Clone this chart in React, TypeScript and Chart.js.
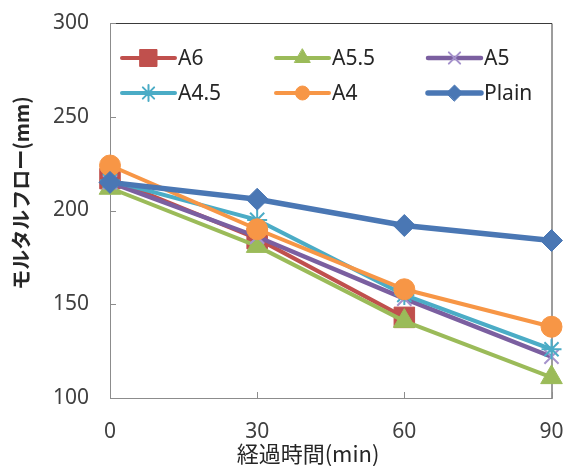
import React, { useEffect, useRef } from 'react';
import { Chart, registerables } from 'chart.js';
import { drawPoint } from 'chart.js/helpers';

Chart.register(...registerables);

// ---- data ----
const categories = ['0', '30', '60', '90'];
const seriesNames = ['A6', 'A5.5', 'A5', 'A4.5', 'A4', 'Plain'];
const a6Values = [217, 185, 143, null];
const a55Values = [212, 181, 141, 111];
const a5Values = [215, 186, 153, 122];
const a45Values = [216, 195, 155, 126];
const a4Values = [224, 190, 158, 138];
const plainValues = [215, 206, 192, 184];
const yTickValues = [100, 150, 200, 250, 300];
const xTitle = '経過時間(min)';
const yTitle = 'モルタルフロー(mm)';

// ---- styles ----
const seriesStyles = [
  { line: '#C0504D', marker: '#C0504D', style: 'rect', r: 14.5, lr: 12, lw: 4, bw: 1 },
  { line: '#9BBB59', marker: '#9BBB59', style: 'triangle', r: 12.5, lr: 9, lw: 4, bw: 1 },
  { line: '#7B5FA0', marker: '#A592CC', style: 'crossRot', r: 10, lr: 8, lw: 4.5, bw: 2 },
  { line: '#4BACC6', marker: '#4BACC6', style: 'star', r: 10, lr: 8, lw: 4, bw: 2 },
  { line: '#F79646', marker: '#F79646', style: 'circle', r: 10.5, lr: 7, lw: 4, bw: 1 },
  { line: '#4A77B4', marker: '#4A77B4', style: 'rectRot', r: 11, lr: 8, lw: 5.5, bw: 1 },
];
const allValues = [a6Values, a55Values, a5Values, a45Values, a4Values, plainValues];

const FONT = '"Noto Sans", "Noto Sans CJK JP", sans-serif';
const CJK = '"Noto Sans CJK JP", "Noto Sans", sans-serif';

const zeroPad = (s: any) => {
  s.paddingTop = 0;
  s.paddingBottom = 0;
  s.paddingLeft = 0;
  s.paddingRight = 0;
};

const framePlugin = {
  id: 'frame',
  beforeDatasetsDraw(chart: any) {
    const { ctx, chartArea: a, scales } = chart;
    ctx.save();
    ctx.lineWidth = 1;
    ctx.strokeStyle = '#8c8c8c';
    ctx.beginPath();
    ctx.moveTo(a.left + 0.5, a.top);
    ctx.lineTo(a.left + 0.5, a.bottom + 0.5);
    ctx.lineTo(a.right, a.bottom + 0.5);
    ctx.stroke();
    ctx.strokeStyle = '#3a3a3a';
    ctx.beginPath();
    ctx.moveTo(a.left, a.top + 0.5);
    ctx.lineTo(a.right + 0.5, a.top + 0.5);
    ctx.lineTo(a.right + 0.5, a.bottom + 1);
    ctx.stroke();
    ctx.strokeStyle = '#8c8c8c';
    ctx.beginPath();
    scales.y.ticks.forEach((t: any, i: number) => {
      const y = Math.round(scales.y.getPixelForTick(i)) + 0.5;
      ctx.moveTo(a.left, y);
      ctx.lineTo(a.left + 6, y);
    });
    scales.x.ticks.forEach((t: any, i: number) => {
      const x = Math.round(scales.x.getPixelForTick(i)) + 0.5;
      ctx.moveTo(x, a.bottom);
      ctx.lineTo(x, a.bottom - 6);
    });
    ctx.stroke();
    ctx.restore();
  },
  afterDraw(chart: any) {
    const { ctx } = chart;
    ctx.save();
    ctx.fillStyle = '#262626';
    ctx.textAlign = 'center';
    ctx.textBaseline = 'middle';
    ctx.font = `22px ${CJK}`;
    ctx.fillText(xTitle, 308, 454);
    ctx.save();
    ctx.translate(21, 193);
    ctx.rotate(-Math.PI / 2);
    ctx.font = `bold 20px ${CJK}`;
    ctx.fillText(yTitle, 0, 0);
    ctx.restore();

    const colX = [122, 276, 428];
    const rowY = [58, 93];
    const lineLen = 53;
    ctx.textAlign = 'left';
    ctx.font = `21px ${FONT}`;
    seriesNames.forEach((name, i) => {
      const s = seriesStyles[i];
      const x0 = colX[i % 3];
      const y0 = rowY[Math.floor(i / 3)];
      ctx.strokeStyle = s.line;
      ctx.lineWidth = s.lw;
      ctx.lineCap = 'round';
      ctx.beginPath();
      ctx.moveTo(x0, y0);
      ctx.lineTo(x0 + lineLen, y0);
      ctx.stroke();
      ctx.fillStyle = s.marker;
      ctx.strokeStyle = s.marker;
      ctx.lineWidth = s.bw;
      drawPoint(ctx, { pointStyle: s.style, radius: s.lr, rotation: 0, borderWidth: s.bw } as any, x0 + lineLen / 2, y0);
      ctx.fillStyle = '#262626';
      ctx.fillText(name, x0 + lineLen + 3, y0 + 1);
    });
    ctx.restore();
  },
};

export default function App() {
  const ref = useRef<HTMLCanvasElement | null>(null);
  useEffect(() => {
    if (!ref.current) return;
    const datasets = seriesNames.map((name, i) => {
      const s = seriesStyles[i];
      return {
        label: name,
        data: allValues[i],
        borderColor: s.line,
        backgroundColor: s.marker,
        borderWidth: s.lw,
        pointStyle: s.style,
        pointRadius: s.r,
        pointBackgroundColor: s.marker,
        pointBorderColor: s.marker,
        pointBorderWidth: s.bw,
        tension: 0,
        fill: false,
        clip: false,
        spanGaps: false,
        order: seriesNames.length - i,
      };
    });
    const chart = new Chart(ref.current, {
      type: 'line',
      data: { labels: categories, datasets: datasets as any },
      options: {
        animation: false,
        responsive: false,
        maintainAspectRatio: false,
        layout: { padding: { top: 23, right: 14, left: 0, bottom: 0 } },
        plugins: { legend: { display: false }, tooltip: { enabled: false } },
        scales: {
          x: {
            type: 'category',
            offset: false,
            grid: { display: false, drawTicks: false },
            border: { display: false },
            ticks: { padding: 21, color: '#404040', font: { family: FONT, size: 21 }, maxRotation: 0, autoSkip: false },
            afterFit: (s: any) => { s.height = 68; zeroPad(s); },
          },
          y: {
            type: 'linear',
            min: 100,
            max: 300,
            afterBuildTicks: (s: any) => { s.ticks = yTickValues.map((v) => ({ value: v })); },
            grid: { display: false, drawTicks: false },
            border: { display: false },
            ticks: { padding: 21, color: '#404040', font: { family: FONT, size: 21 } },
            afterFit: (s: any) => { s.width = 110; zeroPad(s); },
          },
        },
      },
      plugins: [framePlugin],
    });
    return () => chart.destroy();
  }, []);
  return (
    <div style={{ position: 'absolute', left: 0, top: 0, width: 567, height: 466, background: '#fff' }}>
      <canvas ref={ref} width={567} height={466} style={{ display: 'block', width: 567, height: 466 }} />
    </div>
  );
}
